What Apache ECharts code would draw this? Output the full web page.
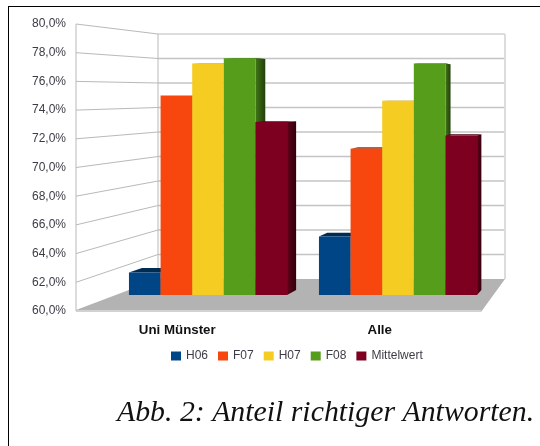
<!DOCTYPE html>
<html>
<head>
<meta charset="utf-8">
<style>html,body{margin:0;padding:0;background:#fff}#c{width:540px;height:446px}</style>
<script src="https://cdn.jsdelivr.net/npm/echarts@6/dist/echarts.min.js"></script>
</head>
<body>
<div id="c"></div>
<script>
const categories = ['Uni Münster', 'Alle'];
const H06 = [61.7, 64.4];
const F07 = [75.0, 71.0];
const H07 = [77.4, 74.6];
const F08 = [77.8, 77.4];
const Mittelwert = [73.0, 72.0];
const seriesNames = ['H06', 'F07', 'H07', 'F08', 'Mittelwert'];
const seriesValues = [H06, F07, H07, F08, Mittelwert];
const colors = ['#004586', '#f7470f', '#f5cc22', '#579d1c', '#7e0021'];
const yTicks = [60, 62, 64, 66, 68, 70, 72, 74, 76, 78, 80];

const FRONT = {left: 76, top: 24, width: 405, height: 287};
const MID = {left: 113, top: 29, width: 380, height: 266};
const BACK = {left: 158, top: 34, width: 347, height: 245};
const VX = 650, VY = 92, D = 0.025, GAP = 0.168;

const chart = echarts.init(document.getElementById('c'), null, {renderer: 'canvas'});
const hidden = {show: false};
const xAx = (i, show) => ({
  type: 'category', gridIndex: i, data: categories,
  axisLine: hidden, axisTick: hidden, splitLine: hidden,
  axisLabel: show ? {show: true, color: '#111', fontFamily: 'Liberation Sans', fontWeight: 'bold', fontSize: 13.3, margin: 13} : hidden
});
const yAx = (i, show) => ({
  type: 'value', gridIndex: i, min: 60, max: 80, interval: 2,
  axisLine: hidden, axisTick: hidden, splitLine: hidden,
  axisLabel: show ? {show: true, color: '#3c3c46', fontFamily: 'Liberation Sans', fontSize: 12, margin: 10,
    padding: [4, 0, 0, 0],
    formatter: v => v.toFixed(1).replace('.', ',') + '%'} : hidden
});
const shade = (hex, f) => {
  const n = parseInt(hex.slice(1), 16);
  return 'rgb(' + [(n >> 16) & 255, (n >> 8) & 255, n & 255].map(c => Math.round(c * f)).join(',') + ')';
};
const depth = (x, y) => [x + (VX - x) * D, y + (VY - y) * D];

function backY(v) { return chart.convertToPixel({xAxisIndex: 2, yAxisIndex: 2}, [0, v])[1]; }

const wallSeries = {
  type: 'custom', xAxisIndex: 0, yAxisIndex: 0, z: 1, silent: true, clip: false,
  data: yTicks.map(v => [0, v]),
  renderItem(params, api) {
    const v = api.value(1), fy = api.coord([0, v])[1], by = backY(v);
    const bl = BACK.left, br = BACK.left + BACK.width, fl = FRONT.left;
    if (v === 60) {
      const fr = FRONT.left + FRONT.width;
      return {type: 'group', children: [
        {type: 'polygon', shape: {points: [[fl, fy - 1], [bl, by], [br, by], [fr, fy + 1], [fr, fy - 1]]}, style: {fill: '#b3b3b3'}},
        {type: 'polygon', shape: {points: [[fl, fy - 1], [fr, fy - 1], [fr, fy + 1], [fl, fy + 1]]}, style: {fill: '#d2d2d2'}}
      ]};
    }
    const top = v === 80;
    return {type: 'group', children: [
      {type: 'line', shape: {x1: fl, y1: fy, x2: bl, y2: by}, style: {stroke: '#b9b9b9', lineWidth: 1}},
      {type: 'line', shape: {x1: bl, y1: by, x2: br, y2: by}, style: {stroke: top ? '#dcdcdc' : '#c4c4c4', lineWidth: top ? 2 : 1.5}}
    ]};
  }
};
const wallEdges = {
  type: 'custom', xAxisIndex: 0, yAxisIndex: 0, z: 1, silent: true, clip: false,
  data: [[0, 60]],
  renderItem(params, api) {
    const fTop = api.coord([0, 80])[1], fBot = api.coord([0, 60])[1];
    const bTop = backY(80), bBot = backY(60);
    const fl = FRONT.left, bl = BACK.left, br = BACK.left + BACK.width;
    return {type: 'group', children: [
      {type: 'line', shape: {x1: fl, y1: fTop, x2: fl, y2: fBot}, style: {stroke: '#b9b9b9', lineWidth: 1}},
      {type: 'line', shape: {x1: bl, y1: bTop, x2: bl, y2: bBot}, style: {stroke: '#b9b9b9', lineWidth: 1}},
      {type: 'line', shape: {x1: br, y1: bTop, x2: br, y2: bBot}, style: {stroke: '#dcdcdc', lineWidth: 2}}
    ]};
  }
};
const depthSeries = seriesNames.map((name, i) => ({
  type: 'custom', xAxisIndex: 1, yAxisIndex: 1, z: 2, silent: true, clip: false,
  data: seriesValues[i].map((v, k) => [k, v]),
  renderItem(params, api) {
    const k = api.value(0), v = api.value(1);
    const c = api.coord([k, v]), base = api.coord([k, 60])[1];
    const w = api.size([1, 0])[0] * (1 - GAP) / 5;
    const x0 = c[0] - 2.5 * w + i * w, x1 = x0 + w, y = c[1];
    const tl = depth(x0, y), tr = depth(x1, y), br = depth(x1, base);
    return {type: 'group', children: [
      {type: 'polygon', shape: {points: [[x0, y], [x1, y], tr, tl]}, style: {fill: shade(colors[i], 0.62)}},
      {type: 'polygon', shape: {points: [[x1, y], tr, br, [x1, base]]}, style: {
        fill: new echarts.graphic.LinearGradient(0, 0, 1, 0, [
          {offset: 0, color: shade(colors[i], 0.75)}, {offset: 1, color: shade(colors[i], 0.4)}], false)}}
    ]};
  }
}));
const barSeries = seriesNames.map((name, i) => ({
  name, type: 'bar', xAxisIndex: 1, yAxisIndex: 1, z: 3,
  data: seriesValues[i], barGap: 0, barCategoryGap: (GAP * 100) + '%',
  itemStyle: {color: colors[i]}, emphasis: {disabled: true}
}));

chart.setOption({
  animation: false,
  backgroundColor: '#fff',
  grid: [
    Object.assign({}, FRONT, {containLabel: false}),
    Object.assign({}, MID, {containLabel: false}),
    Object.assign({}, BACK, {containLabel: false})
  ],
  xAxis: [xAx(0, true), xAx(1, false), xAx(2, false)],
  yAxis: [yAx(0, true), yAx(1, false), yAx(2, false)],
  legend: {
    data: seriesNames, left: 171, top: 350, padding: 0, itemWidth: 10, itemHeight: 9, itemGap: 10,
    icon: 'rect', selectedMode: false,
    textStyle: {color: '#3c3c46', fontFamily: 'Liberation Sans', fontSize: 12, padding: [3, 0, 0, 0]}
  },
  title: {
    text: 'Abb. 2: Anteil richtiger Antworten.', left: 117, top: 398, padding: 0,
    textStyle: {fontFamily: 'Liberation Serif', fontStyle: 'italic', fontWeight: 'normal', fontSize: 29.8, color: '#111'}
  },
  graphic: [
    {type: 'rect', shape: {x: 8, y: 6, width: 1, height: 440}, style: {fill: '#000'}},
    {type: 'rect', shape: {x: 8, y: 6, width: 532, height: 1}, style: {fill: '#000'}}
  ],
  series: [wallSeries, wallEdges].concat(depthSeries, barSeries)
});
</script>
</body>
</html>
